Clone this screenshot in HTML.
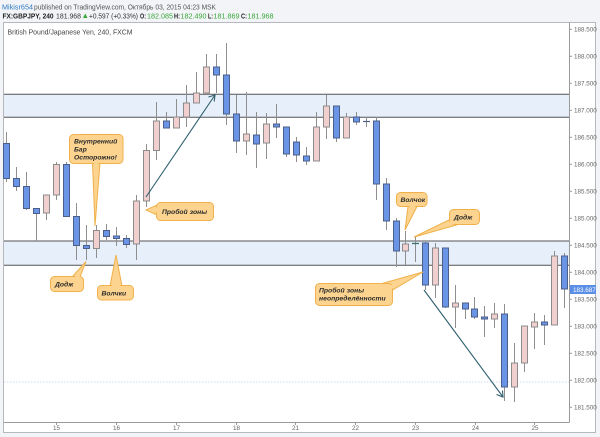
<!DOCTYPE html>
<html><head><meta charset="utf-8"><style>
html,body{margin:0;padding:0;background:#f2f4f7;}
svg{display:block;}
text{font-family:"Liberation Sans",sans-serif;}
</style></head><body>
<svg width="600" height="437" viewBox="0 0 600 437" xmlns="http://www.w3.org/2000/svg">
<rect x="0" y="0" width="600" height="437" fill="#f2f4f7"/>
<!-- header -->
<text x="2" y="9.5" font-size="7.5" fill="#2f7bc4" textLength="31" lengthAdjust="spacingAndGlyphs">Mikisr654</text>
<text x="34" y="9.5" font-size="7.5" fill="#555" textLength="182" lengthAdjust="spacingAndGlyphs">published on TradingView.com, Октябрь 03, 2015 04:23 MSK</text>
<g font-size="7.5">
<text x="2.5" y="18.5" font-weight="bold" fill="#222" textLength="51" lengthAdjust="spacingAndGlyphs">FX:GBPJPY, 240</text>
<text x="56" y="18.5" fill="#333" textLength="25" lengthAdjust="spacingAndGlyphs">181.968</text>
<polygon points="83,18 87.5,18 85.25,13.5" fill="#3aa63a"/>
<text x="89" y="18.5" fill="#333" textLength="49" lengthAdjust="spacingAndGlyphs">+0.597 (+0.33%)</text>
<text x="140" y="18.5" font-weight="bold" fill="#222" textLength="6" lengthAdjust="spacingAndGlyphs">O:</text>
<text x="147" y="18.5" fill="#3aa63a" textLength="26" lengthAdjust="spacingAndGlyphs">182.085</text>
<text x="174" y="18.5" font-weight="bold" fill="#222" textLength="6" lengthAdjust="spacingAndGlyphs">H:</text>
<text x="180.5" y="18.5" fill="#3aa63a" textLength="26" lengthAdjust="spacingAndGlyphs">182.490</text>
<text x="208" y="18.5" font-weight="bold" fill="#222" textLength="5" lengthAdjust="spacingAndGlyphs">L:</text>
<text x="213.5" y="18.5" fill="#3aa63a" textLength="26" lengthAdjust="spacingAndGlyphs">181.869</text>
<text x="241" y="18.5" font-weight="bold" fill="#222" textLength="6" lengthAdjust="spacingAndGlyphs">C:</text>
<text x="247.5" y="18.5" fill="#3aa63a" textLength="26" lengthAdjust="spacingAndGlyphs">181.968</text>
</g>
<!-- panel -->
<rect x="3.5" y="22.5" width="592" height="410" fill="#ffffff" stroke="#b5b8bc" stroke-width="1"/>
<text x="7.5" y="34.5" font-size="7.2" fill="#444" textLength="125" lengthAdjust="spacingAndGlyphs">British Pound/Japanese Yen, 240, FXCM</text>
<!-- zones -->
<rect x="4" y="94.3" width="565" height="23" fill="#e7effb"/>
<line x1="4" y1="94.3" x2="569" y2="94.3" stroke="#555" stroke-width="1"/>
<line x1="4" y1="117.3" x2="569" y2="117.3" stroke="#555" stroke-width="1"/>
<rect x="4" y="241" width="565" height="24.3" fill="#e7effb"/>
<line x1="4" y1="241" x2="569" y2="241" stroke="#555" stroke-width="1"/>
<line x1="4" y1="265.3" x2="569" y2="265.3" stroke="#555" stroke-width="1"/>
<line x1="4" y1="382" x2="569" y2="382" stroke="#b9d0ea" stroke-width="0.8" stroke-dasharray="1.5,1.5"/>
<!-- axes -->
<line x1="569.5" y1="22.5" x2="569.5" y2="422.5" stroke="#9a9a9a" stroke-width="1"/>
<line x1="3.5" y1="422.5" x2="569.5" y2="422.5" stroke="#9a9a9a" stroke-width="1"/>
<g stroke="#9a9a9a" stroke-width="1">
<line x1="569" y1="29.3" x2="572" y2="29.3"/><line x1="569" y1="56.3" x2="572" y2="56.3"/>
<line x1="569" y1="83.3" x2="572" y2="83.3"/><line x1="569" y1="110.3" x2="572" y2="110.3"/>
<line x1="569" y1="137.3" x2="572" y2="137.3"/><line x1="569" y1="164.3" x2="572" y2="164.3"/>
<line x1="569" y1="191.3" x2="572" y2="191.3"/><line x1="569" y1="218.3" x2="572" y2="218.3"/>
<line x1="569" y1="245.3" x2="572" y2="245.3"/><line x1="569" y1="272.3" x2="572" y2="272.3"/>
<line x1="569" y1="299.3" x2="572" y2="299.3"/><line x1="569" y1="326.3" x2="572" y2="326.3"/>
<line x1="569" y1="353.3" x2="572" y2="353.3"/><line x1="569" y1="380.3" x2="572" y2="380.3"/>
<line x1="569" y1="407.3" x2="572" y2="407.3"/>
<line x1="56.5" y1="422" x2="56.5" y2="425"/><line x1="116.5" y1="422" x2="116.5" y2="425"/>
<line x1="176.5" y1="422" x2="176.5" y2="425"/><line x1="236.5" y1="422" x2="236.5" y2="425"/>
<line x1="295.5" y1="422" x2="295.5" y2="425"/><line x1="355.5" y1="422" x2="355.5" y2="425"/>
<line x1="415.5" y1="422" x2="415.5" y2="425"/><line x1="475.5" y1="422" x2="475.5" y2="425"/>
<line x1="534.5" y1="422" x2="534.5" y2="425"/>
</g>
<g font-size="6.3" fill="#666">
<text x="574" y="31.5">188.500</text><text x="574" y="58.5">188.000</text>
<text x="574" y="85.5">187.500</text><text x="574" y="112.5">187.000</text>
<text x="574" y="139.5">186.500</text><text x="574" y="166.5">186.000</text>
<text x="574" y="193.5">185.500</text><text x="574" y="220.5">185.000</text>
<text x="574" y="247.5">184.500</text><text x="574" y="274.5">184.000</text>
<text x="574" y="301.5">183.500</text><text x="574" y="328.5">183.000</text>
<text x="574" y="355.5">182.500</text><text x="574" y="382.5">182.000</text>
<text x="574" y="409.5">181.500</text>
</g>
<rect x="570" y="285" width="26" height="9" fill="#5b8ee6"/>
<text x="573" y="292" font-size="6.3" fill="#fff">183.687</text>
<g font-size="6.3" fill="#666" text-anchor="middle">
<text x="56.5" y="430">15</text><text x="116.5" y="430">16</text><text x="176.5" y="430">17</text>
<text x="236.5" y="430">18</text><text x="295.5" y="430">21</text><text x="355.5" y="430">22</text>
<text x="415.5" y="430">23</text><text x="475.5" y="430">24</text><text x="535" y="430">25</text>
</g>
<!-- wicks -->
<g stroke="#8e8e8e" stroke-width="1">
<line x1="6.5" y1="132" x2="6.5" y2="182"/><line x1="16.5" y1="167" x2="16.5" y2="191"/>
<line x1="26.5" y1="172" x2="26.5" y2="210"/><line x1="36.5" y1="208" x2="36.5" y2="241"/>
<line x1="46.5" y1="195" x2="46.5" y2="220"/><line x1="56.5" y1="162" x2="56.5" y2="200"/>
<line x1="66.5" y1="162" x2="66.5" y2="216"/><line x1="76.5" y1="203" x2="76.5" y2="260"/>
<line x1="86.5" y1="225" x2="86.5" y2="260"/><line x1="96.5" y1="225" x2="96.5" y2="258"/>
<line x1="106.5" y1="224" x2="106.5" y2="240"/><line x1="116.5" y1="227" x2="116.5" y2="246"/>
<line x1="126.5" y1="235" x2="126.5" y2="248"/><line x1="136.5" y1="195" x2="136.5" y2="260"/>
<line x1="146.5" y1="144" x2="146.5" y2="207"/><line x1="156.5" y1="102" x2="156.5" y2="160"/>
<line x1="166.5" y1="112" x2="166.5" y2="128"/><line x1="176.5" y1="99" x2="176.5" y2="128"/>
<line x1="186.5" y1="85" x2="186.5" y2="127"/><line x1="196.5" y1="72" x2="196.5" y2="103"/>
<line x1="206.5" y1="54" x2="206.5" y2="93"/><line x1="216.5" y1="54" x2="216.5" y2="93"/>
<line x1="226.5" y1="43" x2="226.5" y2="125"/><line x1="236.5" y1="95" x2="236.5" y2="153"/>
<line x1="246.5" y1="92" x2="246.5" y2="155"/><line x1="256.5" y1="112" x2="256.5" y2="168"/>
<line x1="266.5" y1="113" x2="266.5" y2="159"/><line x1="276.5" y1="104" x2="276.5" y2="138"/>
<line x1="286.5" y1="127" x2="286.5" y2="157"/><line x1="296.5" y1="137" x2="296.5" y2="162"/>
<line x1="306.5" y1="147" x2="306.5" y2="165"/><line x1="316.5" y1="112" x2="316.5" y2="161"/>
<line x1="326.5" y1="95" x2="326.5" y2="139"/><line x1="336.5" y1="106" x2="336.5" y2="142"/>
<line x1="346.5" y1="113" x2="346.5" y2="138"/><line x1="356.5" y1="112" x2="356.5" y2="125"/>
<line x1="366.5" y1="117" x2="366.5" y2="127"/><line x1="376.5" y1="117" x2="376.5" y2="200"/>
<line x1="386.5" y1="178" x2="386.5" y2="230"/><line x1="396.5" y1="218" x2="396.5" y2="267"/>
<line x1="405.5" y1="231" x2="405.5" y2="265"/><line x1="415.5" y1="237" x2="415.5" y2="262"/>
<line x1="425.5" y1="242" x2="425.5" y2="290"/><line x1="435.5" y1="243" x2="435.5" y2="298"/>
<line x1="445.5" y1="248" x2="445.5" y2="308"/><line x1="455.5" y1="285" x2="455.5" y2="328"/>
<line x1="465.5" y1="303" x2="465.5" y2="319"/><line x1="474.5" y1="297" x2="474.5" y2="319"/>
<line x1="484.5" y1="306" x2="484.5" y2="337"/><line x1="494.5" y1="303" x2="494.5" y2="328"/>
<line x1="504.5" y1="304" x2="504.5" y2="401"/><line x1="514.5" y1="343" x2="514.5" y2="402"/>
<line x1="524.5" y1="326" x2="524.5" y2="372"/><line x1="534.5" y1="313" x2="534.5" y2="349"/>
<line x1="544.5" y1="315" x2="544.5" y2="345"/><line x1="554.5" y1="251" x2="554.5" y2="325"/>
<line x1="564.5" y1="253" x2="564.5" y2="308"/>
</g>
<!-- blue bodies -->
<g fill="#6a95e6" stroke="#4b5f8a" stroke-width="1">
<rect x="3.5" y="143.5" width="6" height="35"/><rect x="13.5" y="178.5" width="6" height="8"/>
<rect x="23.5" y="186.5" width="6" height="22"/><rect x="33.5" y="208.5" width="6" height="5"/>
<rect x="63.5" y="164.5" width="6" height="52"/><rect x="73.5" y="216.5" width="6" height="29"/>
<rect x="83.5" y="245.5" width="6" height="3"/><rect x="103.5" y="230.5" width="6" height="6"/>
<rect x="113.5" y="236" width="6" height="2.5"/><rect x="123.5" y="238.5" width="6" height="6"/>
<rect x="163.5" y="121" width="6" height="7"/><rect x="213.5" y="67" width="6" height="8"/>
<rect x="223.5" y="75" width="6" height="39"/><rect x="233.5" y="114" width="6" height="27"/>
<rect x="253.5" y="135" width="6" height="9"/><rect x="273.5" y="124" width="6" height="3"/>
<rect x="283.5" y="127" width="6" height="27"/><rect x="293.5" y="142" width="6" height="13"/>
<rect x="303.5" y="156" width="6" height="5"/><rect x="333.5" y="106" width="6" height="32"/>
<rect x="353.5" y="117" width="6" height="5"/><rect x="373.5" y="121" width="6" height="63"/>
<rect x="383.5" y="184" width="6" height="37"/><rect x="393.5" y="221" width="6" height="30"/>
<rect x="422.5" y="243" width="6" height="42"/><rect x="442.5" y="248" width="6" height="59"/>
<rect x="462.5" y="303" width="6" height="6"/><rect x="471.5" y="309" width="6" height="8"/>
<rect x="481.5" y="317" width="6" height="2"/><rect x="501.5" y="314" width="6" height="73"/>
<rect x="541.5" y="322" width="6" height="3"/><rect x="561.5" y="256" width="6" height="33"/>
</g>
<!-- pink bodies -->
<g fill="#f2cfcf" stroke="#8c8c8c" stroke-width="1">
<rect x="43.5" y="195" width="6" height="18"/><rect x="53.5" y="164.5" width="6" height="30.5"/>
<rect x="93.5" y="230.5" width="6" height="18"/><rect x="133.5" y="201" width="6" height="43"/>
<rect x="143.5" y="150.5" width="6" height="50.5"/><rect x="153.5" y="121" width="6" height="29.5"/>
<rect x="173.5" y="117" width="6" height="11"/><rect x="183.5" y="103" width="6" height="14"/>
<rect x="193.5" y="93" width="6" height="10"/><rect x="203.5" y="67" width="6" height="26"/>
<rect x="243.5" y="134" width="6" height="7"/><rect x="263.5" y="124" width="6" height="19"/>
<rect x="313.5" y="127" width="6" height="34"/><rect x="323.5" y="106" width="6" height="21"/>
<rect x="343.5" y="117" width="6" height="21"/>
<rect x="402.5" y="244" width="6" height="7"/><rect x="432.5" y="248" width="6" height="37"/>
<rect x="452.5" y="303" width="6" height="4"/><rect x="491.5" y="314" width="6" height="5"/>
<rect x="511.5" y="363" width="6" height="24"/><rect x="521.5" y="326" width="6" height="37"/>
<rect x="531.5" y="322" width="6" height="5"/><rect x="551.5" y="256" width="6" height="69"/>
</g>
<!-- dojis -->
<line x1="363" y1="121.5" x2="370" y2="121.5" stroke="#4b5f8a" stroke-width="1.2"/>
<line x1="412" y1="243.5" x2="419" y2="243.5" stroke="#3a7070" stroke-width="1.3"/>
<!-- arrows -->
<g stroke="#2f5f6f" stroke-width="1.1" fill="none">
<line x1="146" y1="197" x2="215" y2="95"/>
<polyline points="208.5,97 215,95 214.2,101.5"/>
<line x1="424" y1="290" x2="503" y2="397"/>
<polyline points="496.5,394.5 503,397 502.5,390.5"/>
</g>
<!-- callouts -->
<g fill="#fcd490" stroke="#f0b04a" stroke-width="1">
<polygon points="92.5,163 100,163 95,226"/>
<rect x="69.5" y="134.5" width="53.5" height="29" rx="4"/>
<polygon points="72,277 80,277 86,261.5"/>
<rect x="50.5" y="276.5" width="33" height="15" rx="4"/>
<polygon points="110,286 122,286 116,255"/>
<rect x="97.5" y="285.5" width="36" height="14.5" rx="4"/>
<polygon points="157,205 157,215 146,210"/>
<rect x="156.5" y="202.5" width="57" height="18" rx="4"/>
<polygon points="408,206.5 417,206.5 405,230"/>
<rect x="396.5" y="192.5" width="30.5" height="14" rx="4"/>
<polygon points="451,219 458,224.5 414,237"/>
<rect x="449.5" y="209.5" width="30" height="15" rx="4"/>
<polygon points="380,284 392.5,290 423,272"/>
<rect x="315.5" y="283.5" width="77" height="22" rx="4"/>
</g>
<g fill="#fcd490">
<polygon points="93.5,162 99,162 95.5,170"/>
<polygon points="73,278 79,278 81,273"/>
<polygon points="111,287 121,287 117,280"/>
<polygon points="158,206 158,214 154,210"/>
<polygon points="409,205.5 416,205.5 412,210"/>
<polygon points="452,219 457,223.5 447,226"/>
<polygon points="381,285 391.5,290 395,285"/>
</g>
<g font-size="6.8" font-weight="bold" font-style="italic" fill="#2a2a2a">
<text x="74" y="143.5">Внутренний</text>
<text x="74" y="151.5">Бар</text>
<text x="74" y="159.5">Осторожно!</text>
<text x="55" y="286.5">Додж</text>
<text x="101.5" y="295.5">Волчки</text>
<text x="162" y="214">Пробой зоны</text>
<text x="400.5" y="202">Волчок</text>
<text x="454" y="219.5">Додж</text>
<text x="319" y="292.5">Пробой зоны</text>
<text x="319" y="300.5">неопределённости</text>
</g>
</svg>
</body></html>
